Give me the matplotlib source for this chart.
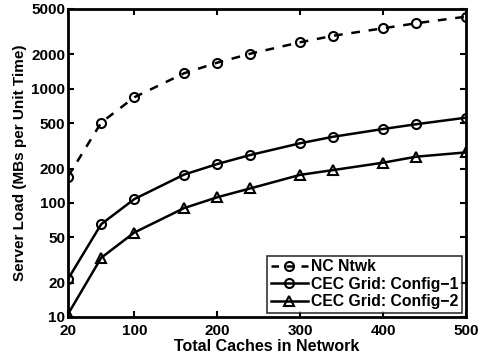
import matplotlib
matplotlib.use("Agg")
import matplotlib.pyplot as plt
from matplotlib.ticker import FixedLocator, FixedFormatter, NullLocator
from matplotlib.legend_handler import HandlerLine2D

plt.rcParams['font.family'] = ['Liberation Sans', 'DejaVu Sans']
plt.rcParams['font.weight'] = 'bold'

caches = [20, 60, 100, 160, 200, 240, 300, 340, 400, 440, 500]
nc_ntwk = [170, 505, 842, 1367, 1693, 2030, 2555, 2915, 3388, 3751, 4285]
cec_config1 = [21.5, 65, 108, 177, 219, 263, 333, 380, 444, 489, 558]
cec_config2 = [10.6, 33, 55, 90, 112, 134, 176, 194, 225, 254, 277]

x_ticks = [20, 100, 200, 300, 400, 500]
y_ticks = [10, 20, 50, 100, 200, 500, 1000, 2000, 5000]

fig = plt.figure(figsize=(4.79, 3.64), dpi=100)
ax = fig.add_axes([68/479, 1-317/364, (466-68)/479, (317-9)/364])

l_nc, = ax.plot(caches, nc_ntwk, '--', color='black', lw=1.8, marker='o', ms=6.5,
                mfc='none', mec='black', mew=1.5, label='NC Ntwk', dashes=(3.5, 3.5))
ax.plot(caches, cec_config1, '-', color='black', lw=1.8, marker='o', ms=6.5,
        mfc='none', mec='black', mew=1.5, label='CEC Grid: Config\u22121')
ax.plot(caches, cec_config2, '-', color='black', lw=1.8, marker='^', ms=7,
        mfc='none', mec='black', mew=1.5, label='CEC Grid: Config\u22122')

ax.set_yscale('log')
ax.set_xlim(20, 500)
ax.set_ylim(10, 5000)
ax.xaxis.set_major_locator(FixedLocator(x_ticks))
ax.xaxis.set_major_formatter(FixedFormatter([str(v) for v in x_ticks]))
ax.yaxis.set_major_locator(FixedLocator(y_ticks))
ax.yaxis.set_major_formatter(FixedFormatter([str(v) for v in y_ticks]))
ax.yaxis.set_minor_locator(NullLocator())
ax.xaxis.set_minor_locator(NullLocator())
ax.tick_params(direction='in', length=4, width=1.5, top=True, right=True,
               labelsize=11)
ax.tick_params(axis='x', pad=5)
ax.tick_params(axis='y', pad=2)
for lab in ax.get_xticklabels() + ax.get_yticklabels():
    lab.set_fontweight('bold')
for s in ax.spines.values():
    s.set_linewidth(2)

ax.set_xlabel('Total Caches in Network', fontsize=11.5, fontweight='bold', labelpad=1)
ax.set_ylabel('Server Load (MBs per Unit Time)', fontsize=11, fontweight='bold', labelpad=3)


def _fix_dash(handle, orig):
    handle.update_from(orig)
    handle.set_dashes((3, 3))


leg = ax.legend(loc='lower right', fontsize=11.3, frameon=True, fancybox=False,
                edgecolor='black', borderaxespad=0.25, handlelength=2.4,
                handletextpad=0.15, borderpad=0.25, labelspacing=0.15,
                handler_map={l_nc: HandlerLine2D(update_func=_fix_dash)})
leg.get_frame().set_linewidth(1.2)
for t in leg.get_texts():
    t.set_fontweight('bold')

fig.savefig('out.png', dpi=100)
